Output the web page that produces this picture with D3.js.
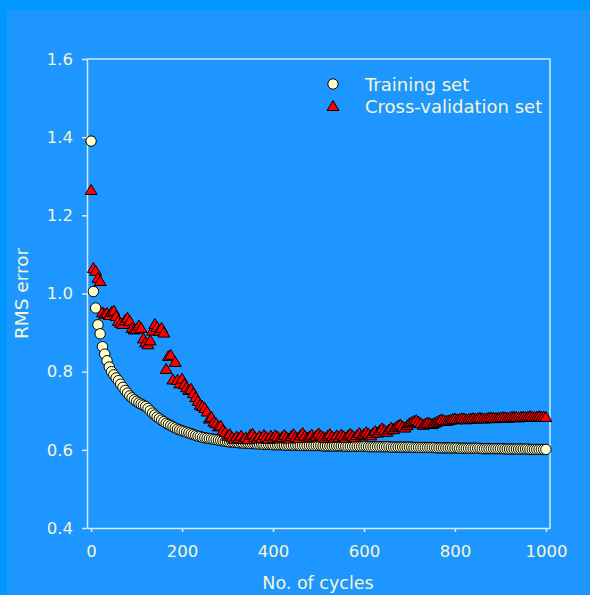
<!DOCTYPE html>
<html>
<head>
<meta charset="utf-8">
<script src="https://cdn.jsdelivr.net/npm/d3@7"></script>
<style>
  html, body { margin: 0; padding: 0; background: #0098ff; }
  svg { display: block; }
</style>
</head>
<body>
<svg id="chart"></svg>
<script>
// cycles sampled every 5 from 0 to 1000
const cycles = d3.range(0, 1001, 5);

const trainingRMS = [
  1.390, 1.005, 0.963, 0.920, 0.897, 0.864, 0.845, 0.828, 0.812, 0.800,
  0.792, 0.784, 0.777, 0.768, 0.760, 0.752, 0.745, 0.738, 0.733, 0.728,
  0.724, 0.720, 0.717, 0.714, 0.711, 0.706, 0.700, 0.694, 0.689, 0.684,
  0.680, 0.676, 0.672, 0.668, 0.665, 0.662, 0.659, 0.656, 0.653, 0.651,
  0.649, 0.647, 0.645, 0.643, 0.641, 0.639, 0.637, 0.635, 0.634, 0.632,
  0.631, 0.630, 0.629, 0.628, 0.627, 0.626, 0.625, 0.624, 0.623, 0.622,
  0.621, 0.620, 0.620, 0.619, 0.619, 0.618, 0.618, 0.617, 0.617, 0.617,
  0.616, 0.616, 0.616, 0.615, 0.615, 0.615, 0.614, 0.614, 0.614, 0.614,
  0.613, 0.613, 0.613, 0.613, 0.613, 0.612, 0.612, 0.612, 0.612, 0.612,
  0.612, 0.612, 0.611, 0.611, 0.611, 0.611, 0.611, 0.611, 0.611, 0.611,
  0.611, 0.611, 0.610, 0.610, 0.610, 0.610, 0.610, 0.610, 0.610, 0.610,
  0.610, 0.610, 0.609, 0.609, 0.609, 0.609, 0.609, 0.609, 0.609, 0.609,
  0.609, 0.609, 0.608, 0.608, 0.608, 0.608, 0.608, 0.608, 0.608, 0.608,
  0.608, 0.608, 0.607, 0.607, 0.607, 0.607, 0.607, 0.607, 0.607, 0.607,
  0.607, 0.607, 0.606, 0.606, 0.606, 0.606, 0.606, 0.606, 0.606, 0.606,
  0.606, 0.606, 0.605, 0.605, 0.605, 0.605, 0.605, 0.605, 0.605, 0.605,
  0.605, 0.605, 0.604, 0.604, 0.604, 0.604, 0.604, 0.604, 0.604, 0.604,
  0.604, 0.604, 0.603, 0.603, 0.603, 0.603, 0.603, 0.603, 0.603, 0.603,
  0.603, 0.603, 0.602, 0.602, 0.602, 0.602, 0.602, 0.602, 0.602, 0.602,
  0.602, 0.602, 0.602, 0.601, 0.601, 0.601, 0.601, 0.601, 0.601, 0.601,
  0.601
];

const crossValRMS = [
  1.265, 1.065, 1.058, 1.040, 1.032, 0.952, 0.948, 0.950, 0.945, 0.953,
  0.956, 0.942, 0.930, 0.925, 0.922, 0.932, 0.938, 0.930, 0.912, 0.908,
  0.910, 0.918, 0.912, 0.885, 0.875, 0.870, 0.880, 0.905, 0.922, 0.915,
  0.905, 0.912, 0.900, 0.807, 0.840, 0.843, 0.780, 0.825, 0.779, 0.770,
  0.782, 0.768, 0.760, 0.753, 0.756, 0.745, 0.735, 0.725, 0.715, 0.712,
  0.707, 0.698, 0.680, 0.684, 0.672, 0.668, 0.660, 0.662, 0.650, 0.645,
  0.636, 0.640, 0.632, 0.628, 0.634, 0.630, 0.636, 0.628, 0.632, 0.627,
  0.638, 0.641, 0.633, 0.629, 0.635, 0.630, 0.638, 0.633, 0.628, 0.636,
  0.631, 0.637, 0.634, 0.629, 0.633, 0.638, 0.632, 0.629, 0.635, 0.640,
  0.633, 0.630, 0.637, 0.643, 0.636, 0.631, 0.634, 0.639, 0.632, 0.636,
  0.642, 0.637, 0.633, 0.630, 0.636, 0.640, 0.634, 0.631, 0.637, 0.633,
  0.639, 0.635, 0.631, 0.637, 0.641, 0.636, 0.632, 0.638, 0.643, 0.637,
  0.640, 0.645, 0.641, 0.637, 0.643, 0.648, 0.644, 0.650, 0.655, 0.650,
  0.646, 0.652, 0.657, 0.653, 0.658, 0.662, 0.665, 0.660, 0.657, 0.663,
  0.668, 0.671, 0.674, 0.676, 0.672, 0.668, 0.664, 0.667, 0.670, 0.668,
  0.666, 0.669, 0.672, 0.675, 0.678, 0.676, 0.674, 0.675, 0.677, 0.679,
  0.680, 0.678, 0.679, 0.681, 0.680, 0.678, 0.679, 0.680, 0.681, 0.680,
  0.681, 0.682, 0.681, 0.680, 0.681, 0.682, 0.683, 0.682, 0.681, 0.682,
  0.683, 0.684, 0.683, 0.682, 0.683, 0.684, 0.685, 0.684, 0.683, 0.684,
  0.685, 0.684, 0.685, 0.686, 0.685, 0.684, 0.685, 0.686, 0.685, 0.685,
  0.684
];

const yTicks = [0.4, 0.6, 0.8, 1.0, 1.2, 1.4, 1.6];
const xTicks = [0, 200, 400, 600, 800, 1000];
const seriesNames = ["Training set", "Cross-validation set"];

const width = 590;
const height = 595;
const textColor = "#f6f6cf";
const lineColor = "#d4ecf2";
const font = "'DejaVu Sans', Verdana, sans-serif";

const svg = d3.select("#chart").attr("width", width).attr("height", height);

// backgrounds
svg.append("rect").attr("width", width).attr("height", height).attr("fill", "#0098ff");
svg.append("rect").attr("x", 7).attr("y", 10).attr("width", width - 7).attr("height", height - 10).attr("fill", "#1e96ff");

const plot = { left: 87, right: 550, top: 59, bottom: 528 };

const xScale = d3.scaleLinear().domain([-9, 1009]).range([plot.left, plot.right]);
const yScale = d3.scaleLinear().domain([0.4, 1.6]).range([plot.bottom, plot.top]);

// frame top + right
svg.append("path")
  .attr("d", `M${plot.left},${plot.top}H${plot.right}V${plot.bottom}`)
  .attr("fill", "none")
  .attr("stroke", lineColor)
  .attr("stroke-width", 1.5);

// Axes
const yAxis = svg.append("g")
  .attr("transform", `translate(${plot.left},0)`)
  .call(d3.axisLeft(yScale).tickValues(yTicks).tickFormat(d3.format(".1f")).tickSize(5).tickSizeOuter(0).tickPadding(9));

const xAxis = svg.append("g")
  .attr("transform", `translate(0,${plot.bottom})`)
  .call(d3.axisBottom(xScale).tickValues(xTicks).tickFormat(d3.format("d")).tickSize(4).tickSizeOuter(0).tickPadding(13));

[yAxis, xAxis].forEach((ax) => {
  ax.select(".domain").attr("stroke", lineColor).attr("stroke-width", 1.5);
  ax.selectAll(".tick line").attr("stroke", lineColor).attr("stroke-width", 1.5);
  ax.selectAll("text").style("fill", textColor).style("font-family", font).style("font-size", "16.5px");
});

// axis titles
svg.append("text")
  .attr("text-anchor", "middle")
  .attr("transform", "rotate(-90)")
  .attr("x", -(plot.top + plot.bottom) / 2)
  .attr("y", 28)
  .style("font-family", font)
  .style("font-size", "18.5px")
  .style("fill", textColor)
  .text("RMS error");

svg.append("text")
  .attr("text-anchor", "middle")
  .attr("x", 318)
  .attr("y", 589)
  .style("font-family", font)
  .style("font-size", "17.5px")
  .style("fill", textColor)
  .text("No. of cycles");

const training = cycles.map((c, i) => ({ c, v: trainingRMS[i] }));
const crossVal = cycles.map((c, i) => ({ c, v: crossValRMS[i] }));

const triPath = "M0,-5.5L6,4.5L-6,4.5Z";

// Training points
svg.append("g")
  .selectAll("circle")
  .data(training)
  .enter()
  .append("circle")
  .attr("cx", (d) => xScale(d.c))
  .attr("cy", (d) => yScale(d.v))
  .attr("r", 5.2)
  .attr("fill", "#ffffcc")
  .attr("stroke", "#000")
  .attr("stroke-width", 1);

// Cross-validation points
svg.append("g")
  .selectAll("path")
  .data(crossVal)
  .enter()
  .append("path")
  .attr("d", triPath)
  .attr("transform", (d) => `translate(${xScale(d.c)},${yScale(d.v)})`)
  .attr("fill", "#ff0000")
  .attr("stroke", "#000")
  .attr("stroke-width", 1);

// Legend
const legend = svg.append("g");
legend.append("circle").attr("cx", 333).attr("cy", 84).attr("r", 5.2)
  .attr("fill", "#ffffcc").attr("stroke", "#000");
legend.append("path").attr("d", triPath).attr("transform", "translate(333,106)")
  .attr("fill", "#ff0000").attr("stroke", "#000");

legend.selectAll("text")
  .data(seriesNames)
  .enter()
  .append("text")
  .attr("x", 365)
  .attr("y", (d, i) => 91 + i * 22)
  .style("font-family", font)
  .style("font-size", "18px")
  .style("fill", textColor)
  .text((d) => d);
</script>
</body>
</html>
